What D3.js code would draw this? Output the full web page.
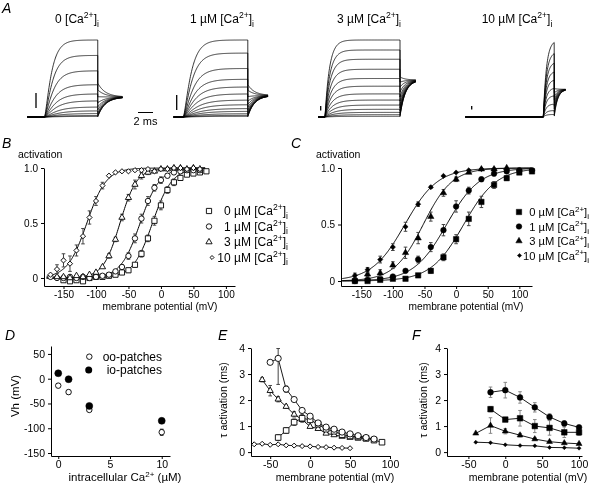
<!DOCTYPE html>
<html><head><meta charset="utf-8">
<script src="https://cdn.jsdelivr.net/npm/d3@7"></script>
<style>
body{margin:0;background:#fff}
svg{display:block;will-change:transform}
text,tspan{font-family:"Liberation Sans",Arial,Helvetica,sans-serif;fill:#000}
</style>
</head><body>
<svg id="fig" width="590" height="485"></svg>
<script>
// ================= DATA =================
const caLevels = ["0", "1 µM", "3 µM", "10 µM"];

// Panel A: normalized plateau amplitudes and activation time constants (ms) per trace
const ampA0  = [1.0, 0.8, 0.6, 0.42, 0.3, 0.21, 0.13, 0.08, 0.045, 0.02, 0.008];
const tauA0  = [0.8, 0.9, 1.0, 1.1, 1.2, 1.3, 1.4, 1.5, 1.6, 1.7, 1.8];
const ampA1  = [1.0, 0.83, 0.63, 0.49, 0.39, 0.3, 0.22, 0.16, 0.11, 0.074, 0.043, 0.022, 0.009];
const tauA1  = [0.9, 1.0, 1.1, 1.2, 1.3, 1.4, 1.5, 1.6, 1.7, 1.8, 1.9, 2.0, 2.1];
const ampA3  = [1.0, 0.87, 0.75, 0.62, 0.5, 0.4, 0.3, 0.22, 0.155, 0.1, 0.06, 0.03, 0.009];
const tauA3  = [0.6, 0.65, 0.7, 0.75, 0.8, 0.85, 0.9, 1.0, 1.1, 1.2, 1.3, 1.4, 1.5];
const ampA10 = [1.0, 0.85, 0.72, 0.6, 0.49, 0.38, 0.28, 0.17, 0.085, 0.033];
const tauA10 = [0.42, 0.42, 0.41, 0.4, 0.39, 0.38, 0.37, 0.36, 0.35, 0.34];
// protocol timing (ms): pre-pulse, test pulse, tail
const preA  = [2.3, 1.3, 0.9, 10.4];
const durA  = [7.1, 8.6, 10.0, 1.47];
const tailA = [3.3, 2.7, 2.1, 1.5];
const tailStartA = [0.44, 0.42, 0.52, 0.38];
const tailSSA    = [0.26, 0.28, 0.48, 0.36];

// Panel B: outside-out activation curves
const bV0 = [-150,-140,-130,-120,-110,-100,-90,-80,-70,-60,-50,-40,-30,-20,-10,0,10,20,30,40,50,60,70];
const bA0 = [-0.02,-0.03,-0.02,-0.03,0.0,0.01,0.01,0.02,0.03,0.05,0.07,0.12,0.22,0.36,0.52,0.66,0.8,0.87,0.91,0.94,0.95,0.96,0.97];
const bE0 = [0,0,0,0,0,0,0,0,0,0,0.02,0.02,0.03,0.03,0.04,0.04,0.03,0.03,0.02,0,0,0,0];
const bV1 = [-170,-160,-150,-140,-130,-120,-110,-100,-90,-80,-70,-60,-50,-40,-30,-20,-10,0,10,20,30,40,50,60];
const bA1 = [0.01,0.0,0.0,0.01,0.0,0.01,0.0,0.01,0.02,0.03,0.06,0.1,0.2,0.36,0.54,0.7,0.82,0.89,0.93,0.96,0.97,0.98,0.98,0.98];
const bE1 = [0,0,0,0,0,0,0,0,0,0,0,0.02,0.03,0.04,0.04,0.04,0.03,0.03,0.02,0,0,0,0,0];
const bV3 = [-160,-150,-140,-130,-120,-110,-100,-90,-80,-70,-60,-50,-40,-30,-20,-10,0,10,20,30,40,50,60];
const bA3 = [0.01,0.01,0.0,0.02,0.01,0.03,0.05,0.1,0.2,0.35,0.55,0.73,0.85,0.93,0.96,0.97,0.99,0.99,1.0,1.0,0.99,1.0,0.99];
const bE3 = [0,0,0,0,0,0,0,0,0.02,0.02,0.03,0.03,0.04,0.03,0.02,0,0,0,0,0,0,0,0];
const bV10 = [-170,-160,-150,-140,-130,-120,-110,-100,-90,-80,-70,-60,-50,-40,-30,-20,-10,0,10,20,30,40,50,60];
const bA10 = [0.03,0.08,0.16,0.13,0.25,0.38,0.55,0.7,0.84,0.93,0.96,0.97,0.97,0.98,0.98,0.99,0.97,0.99,0.99,1.0,1.0,0.99,1.0,0.99];
const bE10 = [0,0.04,0.06,0.07,0.05,0.07,0.06,0.04,0.03,0,0,0,0,0,0,0,0,0,0,0,0,0,0,0];
const bVh = [-13, -32, -63, -114];
const bK  = [15, 15, 13, 15];

// Panel C: inside-out activation curves
const cV   = [-160,-140,-120,-100,-80,-60,-40,-20,0,20,40,60,80,100,120];
const cA0  = [0.0,0.0,0.01,0.02,0.02,0.05,0.09,0.21,0.37,0.55,0.7,0.85,0.91,0.96,0.97];
const cE0  = [0,0,0,0,0,0.01,0.02,0.03,0.04,0.06,0.05,0.03,0.02,0,0];
const cA1  = [0.0,0.01,0.02,0.04,0.09,0.19,0.3,0.45,0.66,0.8,0.9,0.95,0.97,0.98,0.98];
const cE1  = [0,0,0,0,0.01,0.03,0.04,0.05,0.05,0.03,0.02,0,0,0,0];
const cV3  = [-160,-140,-120,-100,-80,-60,-40,-20,0,20,40,60,80];
const cA3  = [0.02,0.06,0.07,0.14,0.25,0.38,0.57,0.78,0.9,0.96,0.99,0.99,1.0];
const cE3  = [0,0.02,0.03,0.03,0.05,0.05,0.04,0.03,0.02,0,0,0,0];
const cV10 = [-160,-140,-120,-100,-80,-60,-40,-20,0,20,40,60];
const cA10 = [0.05,0.1,0.19,0.3,0.48,0.68,0.83,0.93,0.96,0.98,0.99,0.99];
const cE10 = [0.02,0.02,0.03,0.03,0.04,0.02,0.01,0,0,0,0,0];
const cVh = [12, -15, -52, -81];
const cK  = [26, 26, 23, 26];

// Panel D: half-activation voltage vs Ca
const dCa = [0, 1, 3, 10];
const dOO = [-14, -27, -63, -108];
const dOOerr = [4, 4, 3, 6];
const dIO = [11, -1, -55, -85];
const dIOerr = [4, 5, 3, 2];

// Panel E: activation time constants, outside-out (ms)
const eVsq = [-40,-30,-20,-10,0,10,20,30,40,50,60,70,80,90];
const eSq  = [0.56,0.83,1.15,1.3,1.24,1.07,0.88,0.8,0.67,0.62,0.58,0.53,0.46,0.38];
const eSqE = [0.1,0.1,0.12,0.15,0.06,0.05,0.04,0.04,0.03,0.03,0.02,0.02,0.02,0.02];
const eVci = [-50,-40,-30,-20,-10,0,10,20,30,40,50,60,70,80];
const eCi  = [3.45,3.6,2.42,2.02,1.6,1.38,1.12,0.96,0.88,0.77,0.7,0.63,0.56,0.5];
const eCiE = [0,1.0,0.12,0.06,0.05,0.04,0.03,0.03,0.02,0.02,0.02,0.02,0.02,0.02];
const eVtr = [-60,-50,-40,-30,-20,-10,0,10,20,30,40,50,60,70];
const eTr  = [2.78,2.36,2.03,1.75,1.45,1.25,0.98,0.9,0.72,0.66,0.6,0.56,0.53,0.5];
const eTrE = [0.08,0.2,0.1,0.06,0.1,0.08,0.06,0.05,0.04,0.03,0.03,0.02,0.02,0.02];
const eVdi = [-70,-60,-50,-40,-30,-20,-10,0,10,20,30,40,50];
const eDi  = [0.3,0.32,0.28,0.3,0.26,0.25,0.23,0.22,0.2,0.19,0.17,0.16,0.15];

// Panel F: activation time constants, inside-out (ms)
const fV2  = [-20,0,20,40,60,80,100];
const fV4  = [-40,-20,0,20,40,60,80,100];
const fCi  = [2.3,2.38,2.1,1.72,1.35,1.1,0.95];
const fCiE = [0.2,0.3,0.22,0.18,0.12,0.1,0.08];
const fSq  = [1.65,1.25,1.3,1.0,0.93,0.76,0.76];
const fSqE = [0.1,0.08,0.3,0.25,0.28,0.2,0.12];
const fTr  = [0.72,1.02,0.8,0.65,0.5,0.4,0.35,0.32];
const fTrE = [0,0.3,0.1,0.07,0.05,0.04,0.03,0.03];
const fDi  = [0.38,0.36,0.28,0.25,0.24,0.18,0.17,0.15];

// ================= DRAWING =================
const svg = d3.select("#fig");
const FONT = 10;

function caText(sel, prefix, fs) {
  const sub = fs * 0.72;
  sel.append("tspan").attr("fill", "#000").text(prefix + "[Ca");
  sel.append("tspan").attr("fill", "#000").attr("dy", -fs * 0.38).attr("font-size", sub).text("2+");
  sel.append("tspan").attr("fill", "#000").attr("dy", fs * 0.38).text("]");
  sel.append("tspan").attr("fill", "#000").attr("dy", fs * 0.3).attr("font-size", sub).text("i");
}

function panelLetter(x, y, t) {
  svg.append("text").attr("x", x).attr("y", y).attr("font-size", 14)
    .attr("font-style", "italic").text(t);
}

function drawAxes(x, y, xt, yt, yfmt, fs) {
  const g = svg.append("g");
  const ax = g.append("g").attr("transform", `translate(0,${y.range()[0]})`)
    .call(d3.axisBottom(x).tickValues(xt).tickSize(3).tickSizeOuter(0).tickPadding(2)
      .tickFormat(d => String(d)));
  const ay = g.append("g").attr("transform", `translate(${x.range()[0]},0)`)
    .call(d3.axisLeft(y).tickValues(yt).tickSize(3).tickSizeOuter(0).tickPadding(3)
      .tickFormat(yfmt || (d => String(d))));
  [ax, ay].forEach(a => {
    a.selectAll("path,line").attr("stroke", "#000").attr("stroke-width", 1);
    a.selectAll("text").attr("font-size", fs).attr("font-family", '"Liberation Sans",Arial,sans-serif').attr("fill", "#000");
  });
  return g;
}

function symPath(shape, size) {
  if (shape === "square") return d3.symbol(d3.symbolSquare, size * size)();
  if (shape === "circle") return d3.symbol(d3.symbolCircle, Math.PI * size * size / 4)();
  if (shape === "triangle") return d3.symbol(d3.symbolTriangle, Math.sqrt(3) / 4 * size * size)();
  if (shape === "diamond") return d3.symbol(d3.symbolSquare, size * size / 2)();
}

function markers(x, y, V, A, E, shape, filled, size, errColor, yMax) {
  const g = svg.append("g");
  if (E) {
    V.forEach((v, i) => {
      if (!E[i]) return;
      const lo = y(A[i] - E[i]);
      const hiVal = yMax !== undefined ? Math.min(A[i] + E[i], yMax) : A[i] + E[i];
      const hi = y(hiVal);
      g.append("line").attr("x1", x(v)).attr("x2", x(v)).attr("y1", lo).attr("y2", hi)
        .attr("stroke", errColor).attr("stroke-width", 1);
      [lo, hi].forEach(yy => g.append("line").attr("x1", x(v) - 1.8).attr("x2", x(v) + 1.8)
        .attr("y1", yy).attr("y2", yy).attr("stroke", errColor).attr("stroke-width", 1));
    });
  }
  V.forEach((v, i) => {
    g.append("path").attr("d", symPath(shape, size))
      .attr("transform", `translate(${x(v)},${y(A[i])})` + (shape === "diamond" ? " rotate(45)" : ""))
      .attr("fill", filled ? "#000" : "#fff").attr("stroke", "#000").attr("stroke-width", filled ? 0.5 : 0.9);
  });
}

function boltzLine(x, y, vh, k, v0, v1) {
  const pts = d3.range(v0, v1 + 0.01, 1).map(v => [v, 1 / (1 + Math.exp(-(v - vh) / k))]);
  svg.append("path").datum(pts)
    .attr("d", d3.line().x(d => x(d[0])).y(d => y(d[1])))
    .attr("fill", "none").attr("stroke", "#000").attr("stroke-width", 1);
}

function polyLine(x, y, V, A) {
  svg.append("path").datum(V.map((v, i) => [v, A[i]]))
    .attr("d", d3.line().x(d => x(d[0])).y(d => y(d[1])))
    .attr("fill", "none").attr("stroke", "#000").attr("stroke-width", 0.9);
}

// ---------- Panel A ----------
panelLetter(2, 13, "A");
const yA = d3.scaleLinear().domain([0, 1]).range([117, 40]);
const pxPerMs = 7.5;
const setsA = [
  {amp: ampA0, tau: tauA0, x0: 44.5, p: 1.5, tt: 1.0, lx: 77},
  {amp: ampA1, tau: tauA1, x0: 183.3, p: 1.5, tt: 0.9, lx: 222},
  {amp: ampA3, tau: tauA3, x0: 325, p: 1.0, tt: 0.7, lx: 369},
  {amp: ampA10, tau: tauA10, x0: 543.3, p: 1.0, tt: 0.45, lx: 517}
];
setsA.forEach((s, si) => {
  const xt = d3.scaleLinear().domain([0, 1]).range([s.x0, s.x0 + pxPerMs]);
  const g = svg.append("g");
  s.amp.forEach((A, i) => {
    const tau = s.tau[i];
    const pts = [[-preA[si], 0], [0, 0]];
    for (let t = 0.05; t <= durA[si] + 1e-6; t += 0.05) pts.push([t, A * Math.pow(1 - Math.exp(-t / tau), s.p)]);
    const Aend = A * Math.pow(1 - Math.exp(-durA[si] / tau), s.p);
    const start = Aend * tailStartA[si];
    for (let t = 0; t <= tailA[si] + 1e-6; t += 0.05)
      pts.push([durA[si] + t, tailSSA[si] + (start - tailSSA[si]) * Math.exp(-t / s.tt)]);
    g.append("path").datum(pts)
      .attr("d", d3.line().x(d => xt(d[0])).y(d => yA(d[1])))
      .attr("fill", "none").attr("stroke", "#000").attr("stroke-width", 0.8);
  });
  caText(svg.append("text").attr("x", s.lx).attr("y", 23).attr("font-size", 12).attr("text-anchor", "middle"),
    caLevels[si] + " ", 12);
});
// scale bars
[[36, 93, 108], [176.7, 95, 110], [320.7, 106, 110.5], [471.7, 106, 109.5]].forEach(b =>
  svg.append("line").attr("x1", b[0]).attr("x2", b[0]).attr("y1", b[1]).attr("y2", b[2])
    .attr("stroke", "#000").attr("stroke-width", 1.3));
svg.append("line").attr("x1", 138).attr("x2", 138 + 2 * pxPerMs).attr("y1", 112.5).attr("y2", 112.5)
  .attr("stroke", "#000").attr("stroke-width", 1);
svg.append("text").attr("x", 145.5).attr("y", 125).attr("font-size", 11).attr("text-anchor", "middle").text("2 ms");

// ---------- Panel B ----------
panelLetter(2, 148, "B");
const xB = d3.scaleLinear().domain([-180, 114]).range([44, 235]);
const yB = d3.scaleLinear().domain([-0.073, 1]).range([286, 168]);
const fmtAct = d => d === 0 ? "0" : d.toFixed(1);
drawAxes(xB, yB, [-150, -100, -50, 0, 50, 100], [0, 0.5, 1], fmtAct, FONT);
svg.append("text").attr("x", 18).attr("y", 158).attr("font-size", 10.5).text("activation");
svg.append("text").attr("x", 160).attr("y", 310).attr("font-size", 10.2).attr("text-anchor", "middle").text("membrane potential (mV)");
const bSets = [[bV0, bA0, bE0, "square", 5.2], [bV1, bA1, bE1, "circle", 5.4], [bV3, bA3, bE3, "triangle", 6.2], [bV10, bA10, bE10, "diamond", 5.2]];
bSets.forEach((s, i) => boltzLine(xB, yB, bVh[i], bK[i], -176, 68));
bSets.forEach(s => markers(xB, yB, s[0], s[1], s[2], s[3], false, s[4], "#444"));
const legB = [215, 230.5, 246, 261.5];
bSets.forEach((s, i) => {
  svg.append("path").attr("d", symPath(s[3], i === 3 ? 4 : s[4]))
    .attr("transform", `translate(${i === 3 ? 212 : 209},${legB[i] - 4})` + (s[3] === "diamond" ? " rotate(45)" : ""))
    .attr("fill", "#fff").attr("stroke", "#000").attr("stroke-width", 0.9);
  caText(svg.append("text").attr("x", 288).attr("y", legB[i]).attr("font-size", 12).attr("text-anchor", "end"),
    (i === 0 ? "0 µM" : caLevels[i]) + " ", 12);
});

// ---------- Panel C ----------
panelLetter(291, 148, "C");
const xC = d3.scaleLinear().domain([-182, 120]).range([341, 532]);
const yC = d3.scaleLinear().domain([-0.044, 1]).range([286, 168]);
drawAxes(xC, yC, [-150, -100, -50, 0, 50, 100], [0, 0.5, 1], fmtAct, FONT);
svg.append("text").attr("x", 316).attr("y", 158).attr("font-size", 10.5).text("activation");
svg.append("text").attr("x", 466).attr("y", 310).attr("font-size", 10.2).attr("text-anchor", "middle").text("membrane potential (mV)");
const cSets = [[cV, cA0, cE0, "square", 5.4], [cV, cA1, cE1, "circle", 5.6], [cV3, cA3, cE3, "triangle", 6.4], [cV10, cA10, cE10, "diamond", 5.2]];
cSets.forEach((s, i) => boltzLine(xC, yC, cVh[i], cK[i], -180, 119));
cSets.forEach(s => markers(xC, yC, s[0], s[1], s[2], s[3], true, s[4], "#444"));
const legC = [216, 230.5, 245, 259.5];
cSets.forEach((s, i) => {
  svg.append("path").attr("d", symPath(s[3], i === 3 ? 4.2 : s[4]))
    .attr("transform", `translate(${i === 3 ? 519.5 : 519},${legC[i] - 4})` + (s[3] === "diamond" ? " rotate(45)" : ""))
    .attr("fill", "#000").attr("stroke", "#000").attr("stroke-width", 0.5);
  caText(svg.append("text").attr("x", 589).attr("y", legC[i]).attr("font-size", 11.2).attr("text-anchor", "end"),
    (i === 0 ? "0 µM" : caLevels[i]) + " ", 11.2);
});

// ---------- Panel D ----------
panelLetter(5, 340, "D");
const xD = d3.scaleLinear().domain([-0.7, 10.8]).range([51, 170]);
const yD = d3.scaleLinear().domain([-156, 66]).range([456, 346]);
drawAxes(xD, yD, [0, 5, 10], [-150, -100, -50, 0, 50], null, 10.5);
svg.append("text").attr("transform", "translate(19,396) rotate(-90)").attr("font-size", 11.5)
  .attr("text-anchor", "middle").text("Vh (mV)");
const dt = svg.append("text").attr("x", 125).attr("y", 481).attr("font-size", 11.5).attr("text-anchor", "middle");
dt.append("tspan").attr("fill", "#000").text("intracellular Ca");
dt.append("tspan").attr("fill", "#000").attr("dy", -4).attr("font-size", 8).text("2+");
dt.append("tspan").attr("fill", "#000").attr("dy", 4).text(" (µM)");
markers(xD, yD, dCa, dOO, dOOerr, "circle", false, 5.5, "#000");
markers(xD, yD, dCa, dIO, dIOerr, "circle", true, 7, "#000");
svg.append("path").attr("d", symPath("circle", 5.5)).attr("transform", "translate(89.3,356.7)")
  .attr("fill", "#fff").attr("stroke", "#000").attr("stroke-width", 0.9);
svg.append("path").attr("d", symPath("circle", 7)).attr("transform", "translate(88.7,370)")
  .attr("fill", "#000");
svg.append("text").attr("x", 162).attr("y", 361).attr("font-size", 12).attr("text-anchor", "end").text("oo-patches");
svg.append("text").attr("x", 162).attr("y", 374).attr("font-size", 12).attr("text-anchor", "end").text("io-patches");

// ---------- Panel E ----------
panelLetter(218, 340, "E");
const xE = d3.scaleLinear().domain([-74, 100]).range([251, 390]);
const yE = d3.scaleLinear().domain([-0.15, 4]).range([456, 348]);
drawAxes(xE, yE, [-50, 0, 50, 100], [0, 1, 2, 3, 4], null, 10.5);
svg.append("text").attr("transform", "translate(227,400) rotate(-90)").attr("font-size", 10.5)
  .attr("text-anchor", "middle").text("τ activation (ms)");
svg.append("text").attr("x", 335).attr("y", 481).attr("font-size", 10.5).attr("text-anchor", "middle").text("membrane potential (mV)");
[[eVdi, eDi], [eVtr, eTr], [eVsq, eSq], [eVci, eCi]].forEach(s => polyLine(xE, yE, s[0], s[1]));
markers(xE, yE, eVdi, eDi, null, "diamond", false, 5, "#444");
markers(xE, yE, eVtr, eTr, eTrE, "triangle", false, 6.2, "#444", 3.98);
markers(xE, yE, eVsq, eSq, eSqE, "square", false, 5.6, "#444", 3.98);
markers(xE, yE, eVci, eCi, eCiE, "circle", false, 6.2, "#444", 3.98);

// ---------- Panel F ----------
panelLetter(412, 340, "F");
const xF = d3.scaleLinear().domain([-79, 104]).range([447, 582]);
const yF = d3.scaleLinear().domain([-0.15, 4]).range([456, 348]);
drawAxes(xF, yF, [-50, 0, 50, 100], [0, 1, 2, 3, 4], null, 10.5);
svg.append("text").attr("transform", "translate(427,400) rotate(-90)").attr("font-size", 10.5)
  .attr("text-anchor", "middle").text("τ activation (ms)");
svg.append("text").attr("x", 528).attr("y", 481).attr("font-size", 10.5).attr("text-anchor", "middle").text("membrane potential (mV)");
[[fV4, fDi], [fV4, fTr], [fV2, fSq], [fV2, fCi]].forEach(s => polyLine(xF, yF, s[0], s[1]));
markers(xF, yF, fV4, fDi, null, "diamond", true, 4, "#888");
markers(xF, yF, fV4, fTr, fTrE, "triangle", true, 6, "#888");
markers(xF, yF, fV2, fSq, fSqE, "square", true, 5.6, "#888");
markers(xF, yF, fV2, fCi, fCiE, "circle", true, 5.8, "#888");
</script>
</body></html>
